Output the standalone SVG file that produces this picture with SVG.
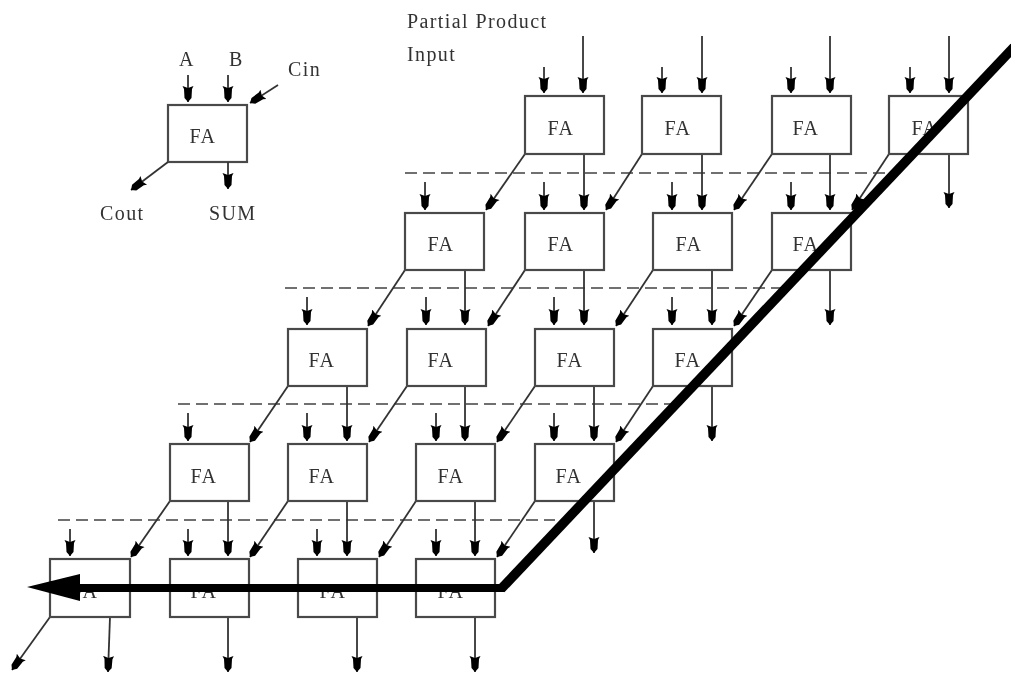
<svg xmlns="http://www.w3.org/2000/svg" width="1011" height="673" viewBox="0 0 1011 673">
<style>
text{font-family:"Liberation Serif","Times New Roman",serif;font-size:20px;letter-spacing:1.4px;fill:#333}
.fa{text-anchor:middle}
rect{fill:#fff;stroke:#4a4a4a;stroke-width:2.2}
.w{fill:none;stroke:#333;stroke-width:1.8;marker-end:url(#a)}
.d{fill:none;stroke:#707070;stroke-width:2.2;stroke-dasharray:12 6}
.t{fill:none;stroke:#000}
</style>
<defs>
<marker id="a" markerUnits="userSpaceOnUse" markerWidth="18" markerHeight="14" refX="16" refY="7" orient="auto"><path d="M0,1.5 L3,3 L12,3.5 L16,7 L12,10.5 L3,11 L0,12.5 L2,7Z" fill="#000"/></marker>
<filter id="soft" filterUnits="userSpaceOnUse" x="0" y="0" width="1011" height="673"><feGaussianBlur stdDeviation="0.5"/></filter>
</defs>
<rect x="0" y="0" width="1011" height="673" style="stroke:none"/>
<g filter="url(#soft)">
<g id="dashes">
<path class="d" d="M405,173H890M285,288H790M178,404H672M58,520H555"/>
</g>
<g id="legend">
<g id="legend-box"><rect x="168" y="105" width="79" height="57"/><text class="fa" x="203" y="143">FA</text></g>
<text x="179" y="66">A</text><text x="229" y="66">B</text><text x="288" y="76">Cin</text><text x="100" y="220">Cout</text><text x="209" y="220">SUM</text>
</g>
<g id="connectors">
<path class="w" d="M188,75V102"/><path class="w" d="M228,75V102"/><path class="w" d="M278,85L250,103"/><path class="w" d="M168,162L131,190"/><path class="w" d="M228,162V189"/>
<path class="w" d="M544,67V93"/><path class="w" d="M662,67V93"/><path class="w" d="M791,67V93"/><path class="w" d="M910,67V93"/>
<path class="w" d="M583,36V93"/><path class="w" d="M702,36V93"/><path class="w" d="M830,36V93"/><path class="w" d="M949,36V93"/>
<path class="w" d="M425,182V210"/><path class="w" d="M544,182V210"/><path class="w" d="M672,182V210"/><path class="w" d="M791,182V210"/>
<path class="w" d="M584,154V210"/><path class="w" d="M702,154V210"/><path class="w" d="M830,154V210"/><path class="w" d="M949,154V208"/>
<path class="w" d="M525,154L486,210"/><path class="w" d="M642,154L606,210"/><path class="w" d="M772,154L734,210"/><path class="w" d="M889,154L852,210"/>
<path class="w" d="M307,297V325"/><path class="w" d="M426,297V325"/><path class="w" d="M554,297V325"/><path class="w" d="M672,297V325"/>
<path class="w" d="M465,270V325"/><path class="w" d="M584,270V325"/><path class="w" d="M712,270V325"/><path class="w" d="M830,270V325"/>
<path class="w" d="M405,270L368,326"/><path class="w" d="M525,270L488,326"/><path class="w" d="M653,270L616,326"/><path class="w" d="M772,270L734,326"/>
<path class="w" d="M188,413V441"/><path class="w" d="M307,413V441"/><path class="w" d="M436,413V441"/><path class="w" d="M554,413V441"/>
<path class="w" d="M347,386V441"/><path class="w" d="M465,386V441"/><path class="w" d="M594,386V441"/><path class="w" d="M712,386V441"/>
<path class="w" d="M288,386L250,442"/><path class="w" d="M407,386L369,442"/><path class="w" d="M535,386L497,442"/><path class="w" d="M653,386L616,442"/>
<path class="w" d="M70,529V556"/><path class="w" d="M188,529V556"/><path class="w" d="M317,529V556"/><path class="w" d="M436,529V556"/>
<path class="w" d="M228,501V556"/><path class="w" d="M347,501V556"/><path class="w" d="M475,501V556"/><path class="w" d="M594,501V553"/>
<path class="w" d="M170,501L131,557"/><path class="w" d="M288,501L250,557"/><path class="w" d="M416,501L379,557"/><path class="w" d="M535,501L497,557"/>
<path class="w" d="M110,617L108,672"/><path class="w" d="M228,617V672"/><path class="w" d="M357,617V672"/><path class="w" d="M475,617V672"/><path class="w" d="M50,617L12,670"/>
</g>
<g id="n11"><rect x="525" y="96" width="79" height="58"/><text class="fa" x="561" y="135">FA</text></g>
<g id="n12"><rect x="642" y="96" width="79" height="58"/><text class="fa" x="678" y="135">FA</text></g>
<g id="n13"><rect x="772" y="96" width="79" height="58"/><text class="fa" x="806" y="135">FA</text></g>
<g id="n14"><rect x="889" y="96" width="79" height="58"/><text class="fa" x="925" y="135">FA</text></g>
<g id="n21"><rect x="405" y="213" width="79" height="57"/><text class="fa" x="441" y="251">FA</text></g>
<g id="n22"><rect x="525" y="213" width="79" height="57"/><text class="fa" x="561" y="251">FA</text></g>
<g id="n23"><rect x="653" y="213" width="79" height="57"/><text class="fa" x="689" y="251">FA</text></g>
<g id="n24"><rect x="772" y="213" width="79" height="57"/><text class="fa" x="806" y="251">FA</text></g>
<g id="n31"><rect x="288" y="329" width="79" height="57"/><text class="fa" x="322" y="367">FA</text></g>
<g id="n32"><rect x="407" y="329" width="79" height="57"/><text class="fa" x="441" y="367">FA</text></g>
<g id="n33"><rect x="535" y="329" width="79" height="57"/><text class="fa" x="570" y="367">FA</text></g>
<g id="n34"><rect x="653" y="329" width="79" height="57"/><text class="fa" x="688" y="367">FA</text></g>
<g id="n41"><rect x="170" y="444" width="79" height="57"/><text class="fa" x="204" y="483">FA</text></g>
<g id="n42"><rect x="288" y="444" width="79" height="57"/><text class="fa" x="322" y="483">FA</text></g>
<g id="n43"><rect x="416" y="444" width="79" height="57"/><text class="fa" x="451" y="483">FA</text></g>
<g id="n44"><rect x="535" y="444" width="79" height="57"/><text class="fa" x="569" y="483">FA</text></g>
<g id="n51"><rect x="50" y="559" width="80" height="58"/><text class="fa" x="85" y="598">FA</text></g>
<g id="n52"><rect x="170" y="559" width="79" height="58"/><text class="fa" x="204" y="598">FA</text></g>
<g id="n53"><rect x="298" y="559" width="79" height="58"/><text class="fa" x="333" y="598">FA</text></g>
<g id="n54"><rect x="416" y="559" width="79" height="58"/><text class="fa" x="451" y="598">FA</text></g>
<text x="407" y="28">Partial Product</text><text x="407" y="61">Input</text>
<g id="path">
<path class="t" stroke-width="9.5" d="M1014,47L501,589"/>
<path class="t" stroke-width="8" d="M504,588H75"/>
<path d="M27,587L80,574V601Z" fill="#000"/>
</g>
</g>
</svg>
